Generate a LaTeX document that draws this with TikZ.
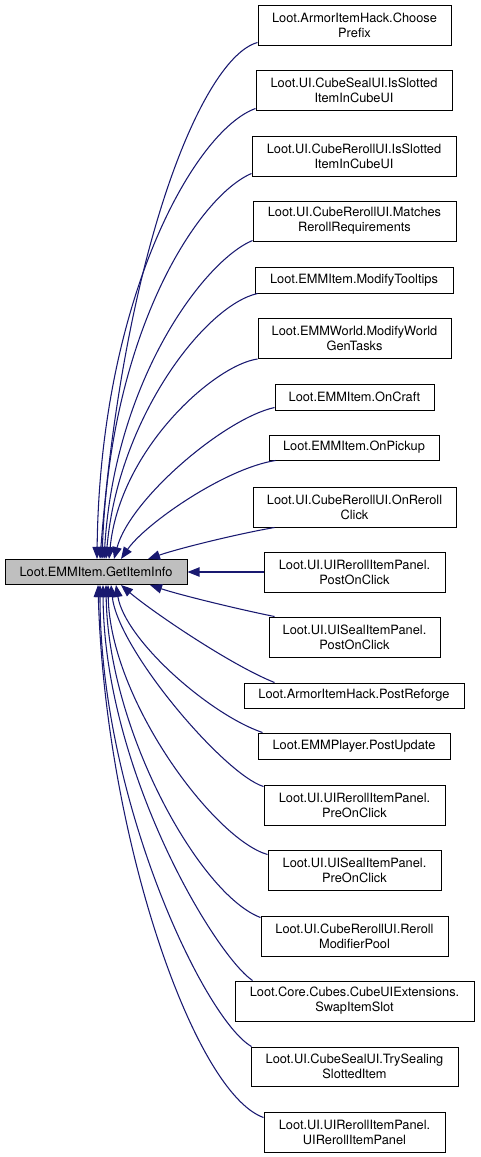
\documentclass[tikz,border=0pt]{standalone}
\usepackage{fontspec}
\setmainfont{TeX Gyre Heros}
\usetikzlibrary{arrows.meta,calc}
\definecolor{edgeblue}{HTML}{191970}
\definecolor{maingray}{HTML}{BFBFBF}
\begin{document}
\begin{tikzpicture}[x=0.75pt,y=-0.75pt,
  every node/.style={font=\fontsize{9.6pt}{11.25pt}\selectfont},
  fbox/.style={draw=black,line width=0.75pt,fill=white,align=center,inner sep=0pt,anchor=center},
  edge/.style={draw=edgeblue,line width=0.8pt,-{Triangle[length=9pt,width=7pt]}}]
\useasboundingbox (0,0) rectangle (480,1157);
\node[fbox,fill=maingray,minimum width=136.5pt,minimum height=18.75pt] (main) at (96,572) {Loot.EMMItem.GetItemInfo};
\node[fbox,minimum width=144.75pt,minimum height=30pt] (b1) at (354.5,25) {Loot.ArmorItemHack.Choose\\Prefix};
\node[fbox,minimum width=147pt,minimum height=30pt] (b2) at (354,90) {Loot.UI.CubeSealUI.IsSlotted\\ItemInCubeUI};
\node[fbox,minimum width=153pt,minimum height=30pt] (b3) at (354,156) {Loot.UI.CubeRerollUI.IsSlotted\\ItemInCubeUI};
\node[fbox,minimum width=152.25pt,minimum height=30pt] (b4) at (354.5,221) {Loot.UI.CubeRerollUI.Matches\\RerollRequirements};
\node[fbox,minimum width=148.5pt,minimum height=19.5pt] (b5) at (354,280) {Loot.EMMItem.ModifyTooltips};
\node[fbox,minimum width=144.75pt,minimum height=30pt] (b6) at (354.5,338.5) {Loot.EMMWorld.ModifyWorld\\GenTasks};
\node[fbox,minimum width=119.25pt,minimum height=19.5pt] (b7) at (354.5,397) {Loot.EMMItem.OnCraft};
\node[fbox,minimum width=127.5pt,minimum height=18.75pt] (b8) at (354,447.5) {Loot.EMMItem.OnPickup};
\node[fbox,minimum width=152.25pt,minimum height=30pt] (b9) at (354.5,507) {Loot.UI.CubeRerollUI.OnReroll\\Click};
\node[fbox,minimum width=135.75pt,minimum height=30pt] (b10) at (354.5,572) {Loot.UI.UIRerollItemPanel.\\PostOnClick};
\node[fbox,minimum width=128.25pt,minimum height=30pt] (b11) at (354.5,637) {Loot.UI.UISealItemPanel.\\PostOnClick};
\node[fbox,minimum width=165pt,minimum height=18.75pt] (b12) at (354,695.5) {Loot.ArmorItemHack.PostReforge};
\node[fbox,minimum width=144pt,minimum height=19.5pt] (b13) at (354,746) {Loot.EMMPlayer.PostUpdate};
\node[fbox,minimum width=135.75pt,minimum height=30pt] (b14) at (354.5,805) {Loot.UI.UIRerollItemPanel.\\PreOnClick};
\node[fbox,minimum width=129.75pt,minimum height=30pt] (b15) at (354.5,870) {Loot.UI.UISealItemPanel.\\PreOnClick};
\node[fbox,minimum width=140.25pt,minimum height=30pt] (b16) at (354.5,936) {Loot.UI.CubeRerollUI.Reroll\\ModifierPool};
\node[fbox,minimum width=179.25pt,minimum height=30pt] (b17) at (354.5,1001) {Loot.Core.Cubes.CubeUIExtensions.\\SwapItemSlot};
\node[fbox,minimum width=155.25pt,minimum height=29.25pt] (b18) at (354.5,1066.5) {Loot.UI.CubeSealUI.TrySealing\\SlottedItem};
\node[fbox,minimum width=135.75pt,minimum height=30pt] (b19) at (354.5,1132) {Loot.UI.UIRerollItemPanel.\\UIRerollItemPanel};
% edges above
\draw[edge] ($(b1.south west)+(0,-3)$) .. controls ($(b1.south west)+(-55,12)$) and ($(main.north)+(28,-310)$) .. ($(main.north)+(4,0)$);
\draw[edge] ($(b2.south west)+(0,-2)$) .. controls ($(b2.south west)+(-61,20)$) and ($(main.north)+(4,-260)$) .. ($(main.north)+(1,0)$);
\draw[edge] ($(b3.south west)+(0,-3)$) .. controls ($(b3.south west)+(-52,19)$) and ($(main.north)+(14,-230)$) .. ($(main.north)+(6,0)$);
\draw[edge] ($(b4.south west)+(0,-1)$) .. controls ($(b4.south west)+(-48,19)$) and ($(main.north)+(19,-180)$) .. ($(main.north)+(8,0)$);
\draw[edge] ($(b5.south west)+(3,0)$) .. controls ($(b5.south west)+(-50,12)$) and ($(main.north)+(22,-140)$) .. ($(main.north)+(10,0)$);
\draw[edge] ($(b6.south west)+(0,0)$) .. controls ($(b6.south west)+(-43,6)$) and ($(main.north)+(24,-110)$) .. ($(main.north)+(13,0)$);
\draw[edge] ($(b7.south west)+(0,-3)$) .. controls ($(b7.south west)+(-50,8)$) and ($(main.north)+(34,-60)$) .. ($(main.north)+(18,0)$);
\draw[edge] ($(b8.south west)+(7,0)$) .. controls ($(b8.south west)+(-44,8)$) and ($(main.north)+(49,-35)$) .. ($(main.north)+(25,0)$);
\draw[edge] ($(b9.south west)+(22,0)$) .. controls ($(b9.south west)+(-13,6)$) and ($(main.north)+(84,-11)$) .. ($(main.north)+(52,0)$);
% horizontal
\draw[edge] (b10.west) -- (main.east);
% edges below
\draw[edge] ($(b11.north west)+(6,0)$) .. controls ($(b11.north west)+(-29,-7)$) and ($(main.south)+(84,10)$) .. ($(main.south)+(54,0)$);
\draw[edge] ($(b12.north west)+(31,0)$) .. controls ($(b12.north west)+(-14,-18)$) and ($(main.south)+(54,25)$) .. ($(main.south)+(25,0)$);
\draw[edge] ($(b13.north west)+(5,0)$) .. controls ($(b13.north west)+(-48,-18)$) and ($(main.south)+(29,55)$) .. ($(main.south)+(20,0)$);
\draw[edge] ($(b14.north west)+(0,2)$) .. controls ($(b14.north west)+(-39,-10)$) and ($(main.south)+(22,65)$) .. ($(main.south)+(15,0)$);
\draw[edge] ($(b15.north west)+(0,5)$) .. controls ($(b15.north west)+(-53,-10)$) and ($(main.south)+(14,115)$) .. ($(main.south)+(12,0)$);
\draw[edge] ($(b16.north west)+(0,2)$) .. controls ($(b16.north west)+(-61,-21)$) and ($(main.south)+(12,145)$) .. ($(main.south)+(10,0)$);
\draw[edge] ($(b17.north west)+(18,0)$) .. controls ($(b17.north west)+(-20,-26)$) and ($(main.south)+(8,185)$) .. ($(main.south)+(7,0)$);
\draw[edge] ($(b18.north west)+(1,0)$) .. controls ($(b18.north west)+(-46,-27)$) and ($(main.south)+(4,215)$) .. ($(main.south)+(4,0)$);
\draw[edge] ($(b19.north west)+(0,6)$) .. controls ($(b19.north west)+(-70,-19)$) and ($(main.south)+(9,250)$) .. ($(main.south)+(2,0)$);
\end{tikzpicture}
\end{document}
